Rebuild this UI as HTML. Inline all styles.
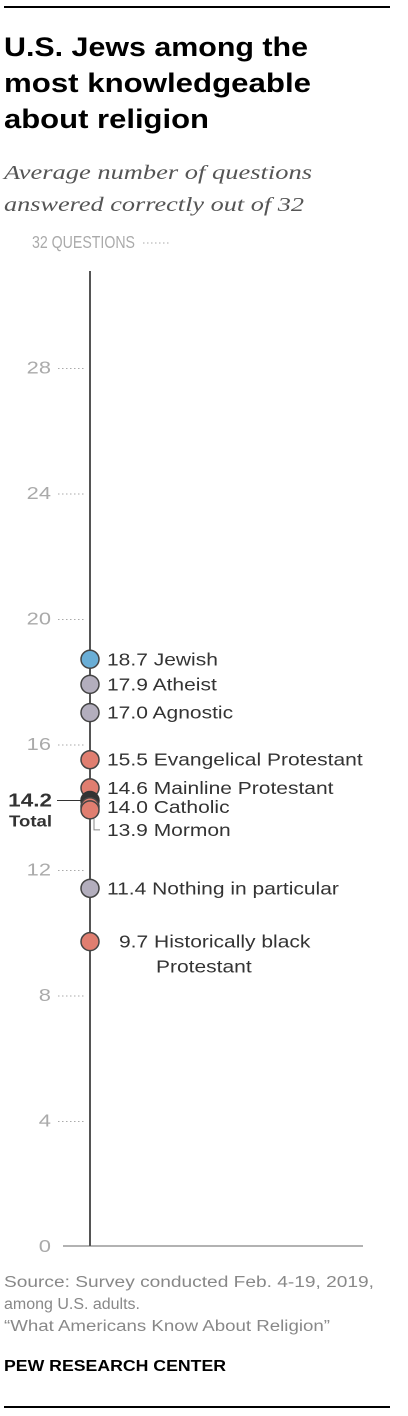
<!DOCTYPE html>
<html><head><meta charset="utf-8">
<style>
html,body{margin:0;padding:0;background:#fff;}
svg{display:block;}
text{font-family:"Liberation Sans",Arial,sans-serif;}
</style></head>
<body>
<svg id="chart" width="408" height="1416" viewBox="0 0 408 1416" xmlns="http://www.w3.org/2000/svg">
<line x1="4" y1="7" x2="390" y2="7" stroke="#000" stroke-width="2"/>
<g font-weight="bold" font-size="27" fill="#000">
<text x="4" y="56" textLength="304" lengthAdjust="spacingAndGlyphs">U.S. Jews among the</text>
<text x="4" y="92" textLength="307" lengthAdjust="spacingAndGlyphs">most knowledgeable</text>
<text x="4" y="128" textLength="205" lengthAdjust="spacingAndGlyphs">about religion</text>
</g>
<g font-size="20" font-style="italic" fill="#555">
<text x="4" y="179" style="font-family:'Liberation Serif',serif" textLength="308" lengthAdjust="spacingAndGlyphs">Average number of questions</text>
<text x="4" y="211" style="font-family:'Liberation Serif',serif" textLength="300" lengthAdjust="spacingAndGlyphs">answered correctly out of 32</text>
</g>
<g id="axis"></g>
<g id="marks"></g>
<g font-size="15.5" fill="#888">
<text x="4" y="1287" textLength="370" lengthAdjust="spacingAndGlyphs">Source: Survey conducted Feb. 4-19, 2019,</text>
<text x="4" y="1309" textLength="136" lengthAdjust="spacingAndGlyphs">among U.S. adults.</text>
<text x="4" y="1331" textLength="326" lengthAdjust="spacingAndGlyphs">“What Americans Know About Religion”</text>
</g>
<text x="4" y="1371" font-size="16" font-weight="bold" fill="#000" textLength="222" lengthAdjust="spacingAndGlyphs">PEW RESEARCH CENTER</text>
<line x1="4" y1="1407" x2="390" y2="1407" stroke="#000" stroke-width="2"/>
</svg>
<script>
const ticks = [0, 4, 8, 12, 16, 20, 24, 28, 32];
const categories = ["Jewish","Atheist","Agnostic","Evangelical Protestant","Mainline Protestant","Catholic","Mormon","Nothing in particular","Historically black|Protestant"];
const values = [18.7, 17.9, 17.0, 15.5, 14.6, 14.0, 13.9, 11.4, 9.7];
const groups = ["jew","none","none","prot","prot","cath","mormon","none","prot"];
const totalValue = 14.2;

const NS = "http://www.w3.org/2000/svg";
const X0 = 90, Y0 = 1246, Y32 = 242;
const STRETCH = 1.2;
function y(v){ return Y0 - (Y0 - Y32) * v / 32; }
function mk(tag, attrs, parent){ const e=document.createElementNS(NS,tag); for(const k in attrs) e.setAttribute(k,attrs[k]); parent.appendChild(e); return e; }
function stretch(t, f){ const w=t.getComputedTextLength(); t.setAttribute("textLength", (w*f).toFixed(1)); t.setAttribute("lengthAdjust","spacingAndGlyphs"); }
const colorMap = {jew:"#6aaed6", none:"#b3aebd", prot:"#e07e70", cath:"#e07e70", mormon:"#e07e70"};

const axis = document.getElementById("axis");
ticks.forEach(t => {
  const ty = y(t);
  const lbl = mk("text", {x: t===32 ? 32 : 51, y: ty+6, "font-size":17.5, fill:"#aaa", "text-anchor": t===32 ? "start":"end"}, axis);
  
  
  lbl.textContent = t===32 ? "32 QUESTIONS" : String(t);
  if (t === 32) { lbl.setAttribute("textLength","103"); lbl.setAttribute("lengthAdjust","spacingAndGlyphs"); }
  else stretch(lbl, 1.25);
  if (t === 0) {
    const b = mk("line", {x1:63, y1:ty, x2:363, y2:ty, stroke:"#666", "stroke-width":1}, axis);
    
    
  } else {
    const x1 = t===32 ? 143 : 58;
    const d = mk("line", {x1:x1, y1:ty+1, x2:x1+26, y2:ty+1, stroke:"#aaa", "stroke-width":1, "stroke-dasharray":"1.5,2.5"}, axis);
    
    
  }
});
const vline = mk("line", {x1:X0, y1:y(32)+29, x2:X0, y2:Y0, stroke:"#555", "stroke-width":2}, axis);



const marks = document.getElementById("marks");
const tl = mk("line", {x1:57, y1:y(totalValue), x2:X0, y2:y(totalValue), stroke:"#333", "stroke-width":1}, marks);


const tv = mk("text", {x:52, y:y(totalValue)+6, "font-size":18, "font-weight":"bold", fill:"#333", "text-anchor":"end"}, marks);


tv.textContent = totalValue.toFixed(1);
stretch(tv, 1.25);
const tt = mk("text", {x:52, y:y(totalValue)+26, "font-size":15.5, "font-weight":"bold", fill:"#333", "text-anchor":"end"}, marks);


tt.textContent = "Total";
stretch(tt, 1.2);

const order = [0,1,2,3,7,8,4,-1,5,6];
const labelOffsets = [0,0,0,0,0,0,20,0,0];
order.forEach(i => {
  if (i === -1) {
    const c = mk("circle", {cx:X0, cy:y(totalValue), r:9, fill:"#333", stroke:"#333", "stroke-width":1.5}, marks);
    
    
    return;
  }
  const cy = y(values[i]);
  const c = mk("circle", {cx:X0, cy:cy, r:9, fill:colorMap[groups[i]], stroke:"#444", "stroke-width":1.5}, marks);
  
  
});
categories.forEach((cat, i) => {
  let ly = y(values[i]) + 6 + labelOffsets[i];
  if (i === 6) {
    const p = mk("polyline", {points:`${X0+4},${y(values[i])+9} ${X0+4},${ly-6} ${X0+10},${ly-6}`, fill:"none", stroke:"#888", "stroke-width":1}, marks);
    
    
  }
  const parts = cat.split("|");
  const isSub10 = values[i] < 10;
  const t = mk("text", {x: isSub10 ? 119 : 107, y: ly, "font-size":17.5, fill:"#333"}, marks);
  
  
  t.textContent = values[i].toFixed(1) + " " + parts[0];
  stretch(t, STRETCH);
  if (parts[1]) {
    const t2 = mk("text", {x:156, y: ly+25, "font-size":17.5, fill:"#333"}, marks);
    
    
    t2.textContent = parts[1];
    stretch(t2, STRETCH);
  }
});
</script>
</body></html>
